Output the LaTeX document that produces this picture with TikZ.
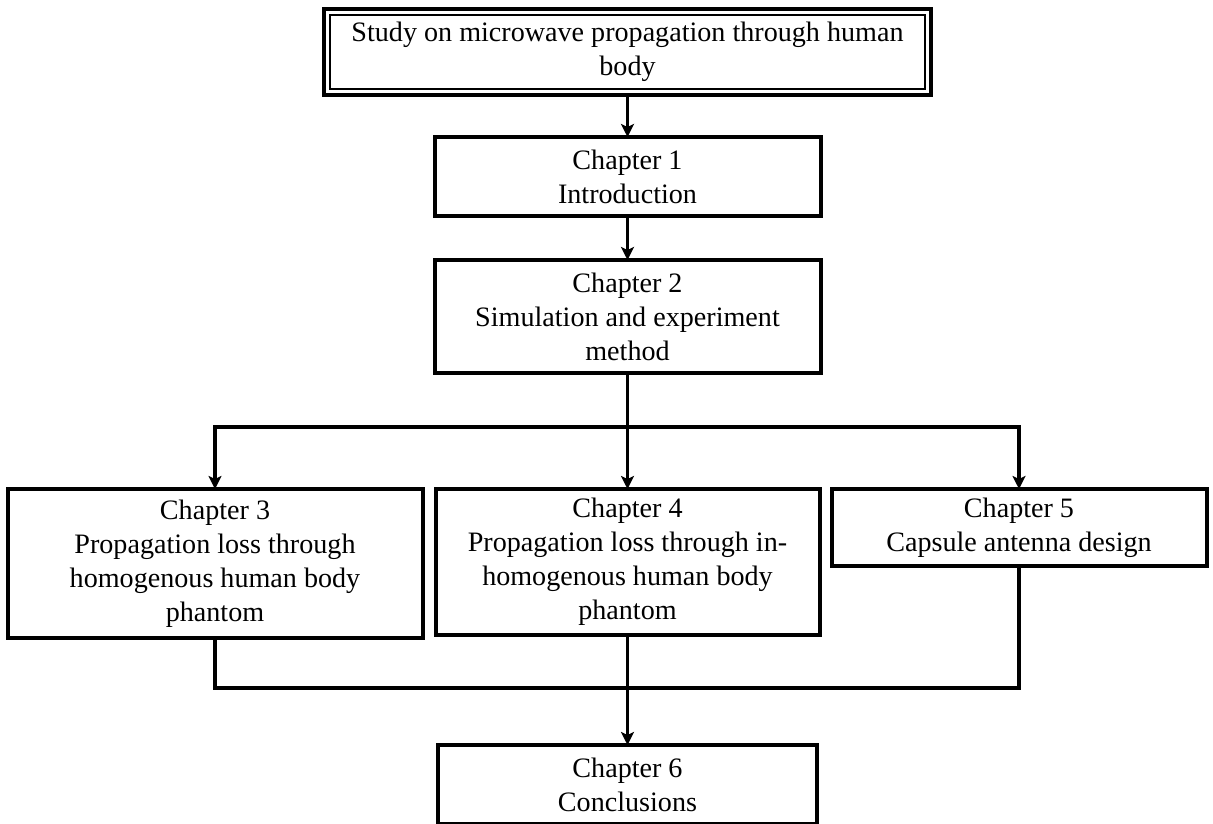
\documentclass[tikz,border=0pt]{standalone}
\usepackage{fontspec}
\setmainfont{Liberation Serif}
\usepackage{tikz}
\usetikzlibrary{arrows.meta}
\usetikzlibrary{calc}
\usetikzlibrary{positioning}

\begin{document}
\begin{tikzpicture}[-,>={Stealth[length=0.26cm,width=0.26cm,inset=0.06cm]},auto,node distance=0.86cm, line width=0.07cm]
 				 \tikzstyle{chap}=[draw, rectangle, line width=0.08cm, inner sep=2pt, outer sep=0pt, minimum width=7.72cm, align=center, fill=white, font=\fontsize{16}{19.4}\selectfont]
 				 \useasboundingbox (0,0) rectangle (24.26,-16.46);
 					 \node[chap, line width=0.09cm, minimum width=12.14cm, minimum height=1.72cm] (T) at (12.55,-1.04) {Study on microwave propagation through human\\body};
 					 \draw[line width=0.04cm] ($(T.north west)+(0.12,-0.12)$) rectangle ($(T.south east)+(-0.12,0.12)$);
  					 \node[chap, minimum height=1.58cm]         (C1) [below=0.84cm of T] {Chapter 1\\Introduction};
  					 \node[chap, minimum height=2.26cm]         (C2) [below=0.88cm of C1] {Chapter 2\\Simulation and experiment\\method};
  					 \node[chap, minimum height=2.92cm, minimum width=7.68cm]         (C4) [below=2.32cm of C2] {Chapter 4\\Propagation loss through in-\\homogenous human body\\phantom};
					\node[chap, minimum height=2.98cm, minimum width=8.3cm]		  (C3) [left=0.26cm of C4.north west, anchor=north east] {Chapter 3\\Propagation loss through\\homogenous human body\\phantom};
					\node[chap, minimum height=1.54cm, minimum width=7.5cm]		  (C5) [right=0.24cm of C4.north east, anchor=north west] {Chapter 5\\Capsule antenna design};
					\node[chap, minimum height=1.58cm, minimum width=7.58cm]		  (C6) [below=2.2cm of C4] {Chapter 6\\Conclusions};
					\coordinate (split) at ($(C2.south)+(0,-1.08)$);
					\coordinate (join) at ($(C4.south)+(0,-1.06)$);
 					  \path[->]
							  (T) edge (C1)
 					 			(C1) edge (C2)
 					 			(split) edge (C4)
 					 			(C4) edge (C6);
 					  \draw (C2) -- (split);
 					  \draw[->] (split) -| (C3);
 					  \draw[->] (split) -| (C5);
 					  \draw (C3) |- (join);
 					  \draw (C5) |- (join);
				\end{tikzpicture}
\end{document}
